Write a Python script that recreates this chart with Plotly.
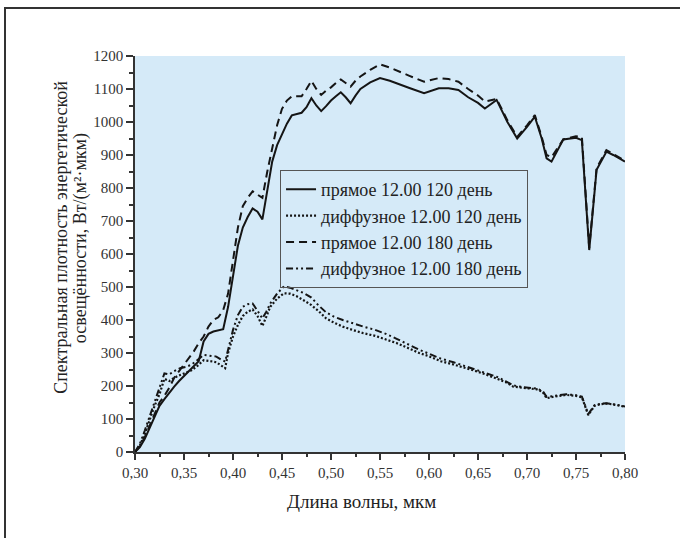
import plotly.graph_objects as go

# ---------------- data ----------------
direct_x = [0.300, 0.305, 0.310, 0.315, 0.320, 0.325, 0.330, 0.335, 0.340, 0.345,
            0.350, 0.355, 0.360, 0.365, 0.370, 0.375, 0.380, 0.385, 0.390, 0.395,
            0.400, 0.405, 0.410, 0.415, 0.420, 0.425, 0.430, 0.435, 0.440, 0.445,
            0.450, 0.455, 0.460, 0.465, 0.470, 0.475, 0.480, 0.485, 0.490, 0.495,
            0.500, 0.505, 0.510, 0.515, 0.520, 0.525, 0.530, 0.540, 0.550, 0.560,
            0.570, 0.580, 0.595, 0.610, 0.620, 0.630, 0.640, 0.650, 0.657, 0.669,
            0.680, 0.690, 0.700, 0.708, 0.715, 0.720, 0.725, 0.737, 0.750, 0.756,
            0.7635, 0.771, 0.781, 0.788, 0.800]

direct_120 = [0, 15, 40, 75, 110, 140, 160, 180, 198, 215,
              230, 245, 258, 275, 335, 358, 365, 368, 372, 440,
              540, 625, 680, 712, 738, 728, 705, 790, 880, 930,
              962, 995, 1020, 1024, 1028, 1045, 1072, 1050, 1033, 1048,
              1065, 1078, 1090, 1075, 1057, 1080, 1100, 1120, 1133, 1125,
              1115, 1103, 1087, 1102, 1102, 1097, 1075, 1058, 1041, 1067,
              1000, 950, 985, 1016, 950, 890, 880, 947, 952, 945,
              612, 855, 910, 900, 880]

direct_180 = [0, 18, 45, 80, 120, 150, 170, 195, 225, 245,
              265, 285, 305, 330, 350, 380, 400, 408, 430, 480,
              580, 680, 745, 770, 790, 780, 770, 850, 915, 990,
              1040, 1065, 1078, 1078, 1078, 1100, 1125, 1100, 1082, 1095,
              1105, 1118, 1129, 1118, 1107, 1125, 1138, 1158, 1175, 1165,
              1152, 1140, 1122, 1133, 1130, 1122, 1100, 1080, 1062, 1070,
              1005, 955, 990, 1021, 955, 900, 893, 947, 957, 955,
              618, 860, 915, 903, 882]

diffuse_x = [0.300, 0.305, 0.310, 0.315, 0.320, 0.325, 0.330, 0.335, 0.340, 0.346,
             0.352, 0.358, 0.364, 0.370, 0.376, 0.383, 0.388, 0.392, 0.395, 0.400,
             0.405, 0.410, 0.415, 0.420, 0.425, 0.430, 0.434, 0.438, 0.445, 0.452,
             0.458, 0.465, 0.472, 0.480, 0.487, 0.495, 0.503, 0.512, 0.522, 0.533,
             0.545, 0.556, 0.567, 0.578, 0.590, 0.600, 0.612, 0.625, 0.637, 0.648,
             0.658, 0.669, 0.678, 0.686, 0.695, 0.703, 0.710, 0.716, 0.720, 0.728,
             0.740, 0.750, 0.756, 0.7625, 0.769, 0.775, 0.781, 0.790, 0.800]

diffuse_120 = [0, 20, 55, 100, 140, 175, 222, 215, 225, 233,
               240, 248, 262, 278, 276, 272, 262, 254, 300, 350,
               385, 412, 425, 432, 412, 382, 410, 440, 465, 481,
               480, 472, 460, 445, 428, 405, 392, 380, 370, 360,
               352, 342, 330, 316, 300, 290, 275, 265, 255, 245,
               235, 222, 212, 198, 195, 193, 190, 182, 163, 168,
               173, 170, 166, 112, 140, 145, 147, 143, 137]

diffuse_180 = [0, 25, 65, 110, 155, 195, 238, 235, 245, 254,
               258, 265, 280, 294, 292, 289, 280, 274, 310, 370,
               415, 440, 448, 450, 428, 405, 425, 450, 480, 502,
               498, 491, 482, 468, 445, 423, 410, 400, 390, 380,
               370, 358, 343, 327, 310, 298, 283, 272, 260, 250,
               240, 228, 215, 202, 197, 195, 192, 185, 167, 170,
               175, 172, 168, 115, 142, 146, 148, 144, 138]

series_names = ["прямое 12.00 120 день", "диффузное 12.00 120 день",
                "прямое 12.00 180 день", "диффузное 12.00 180 день"]

x_title = "Длина волны, мкм"
y_title_1 = "Спектральная плотность энергетической"
y_title_2 = "освещённости, Вт/(м²·мкм)"

# ---------------- figure ----------------
FONT = "Times New Roman, Liberation Serif, DejaVu Serif, serif"
LC = "#151515"

fig = go.Figure()
fig.add_trace(go.Scatter(x=direct_x, y=direct_120, mode="lines", name=series_names[0],
                         line=dict(color=LC, width=2, dash="solid")))
fig.add_trace(go.Scatter(x=diffuse_x, y=diffuse_120, mode="lines", name=series_names[1],
                         line=dict(color=LC, width=2.2, dash="2px,2px")))
fig.add_trace(go.Scatter(x=direct_x, y=direct_180, mode="lines", name=series_names[2],
                         line=dict(color=LC, width=2, dash="8px,5px")))
fig.add_trace(go.Scatter(x=diffuse_x, y=diffuse_180, mode="lines", name=series_names[3],
                         line=dict(color=LC, width=2, dash="7px,3px,2px,3px,2px,3px")))

fig.update_layout(
    width=680, height=538,
    margin=dict(l=135, r=55, t=56, b=86),
    paper_bgcolor="white",
    plot_bgcolor="#d5eaf8",
    separators=", ",
    font=dict(family=FONT, color="#222", size=15),
    showlegend=True,
    legend=dict(x=0.296, y=0.712, xanchor="left", yanchor="top",
                bgcolor="rgba(0,0,0,0)", bordercolor="#555", borderwidth=1,
                font=dict(family=FONT, size=18, color="#222"),
                tracegroupgap=0, itemwidth=30),
)

fig.update_xaxes(range=[0.30, 0.80], dtick=0.05, tick0=0.30, tickformat=".2f",
                 showgrid=False, zeroline=False, showline=True, linecolor="#333",
                 linewidth=1.5, ticks="outside", ticklen=6, tickwidth=1.5, tickcolor="#333",
                 minor=dict(dtick=0.025, ticklen=3, tickwidth=1.5, tickcolor="#333", showgrid=False),
                 tickfont=dict(family=FONT, size=15, color="#333"))
fig.update_yaxes(range=[0, 1200], dtick=100, tickformat="d",
                 showgrid=False, zeroline=False, showline=True, linecolor="#333",
                 linewidth=1.5, ticks="outside", ticklen=7, tickwidth=1.5, tickcolor="#333",
                 minor=dict(dtick=50, ticklen=4, tickwidth=1.5, tickcolor="#333", showgrid=False),
                 tickfont=dict(family=FONT, size=15, color="#333"))

# axis titles as annotations (positioned as in the reference)
fig.add_annotation(text=x_title, xref="paper", yref="paper", x=0.463, y=-0.126,
                   showarrow=False, xanchor="center", yanchor="middle",
                   font=dict(family=FONT, size=19, color="#222"))
fig.add_annotation(text=y_title_1, xref="paper", yref="paper", x=-0.151, y=0.541,
                   showarrow=False, xanchor="center", yanchor="middle", textangle=-90,
                   font=dict(family=FONT, size=18, color="#222"))
fig.add_annotation(text=y_title_2, xref="paper", yref="paper", x=-0.1115, y=0.541,
                   showarrow=False, xanchor="center", yanchor="middle", textangle=-90,
                   font=dict(family=FONT, size=18, color="#222"))

# outer frame (only top and left edges are visible in the reference)
fig.add_shape(type="rect", xref="paper", yref="paper",
              x0=-0.2653, y0=-0.30, x1=1.20, y1=1.1212,
              line=dict(color="#333", width=2), fillcolor="rgba(0,0,0,0)", layer="below")

fig.write_html("out.html")
